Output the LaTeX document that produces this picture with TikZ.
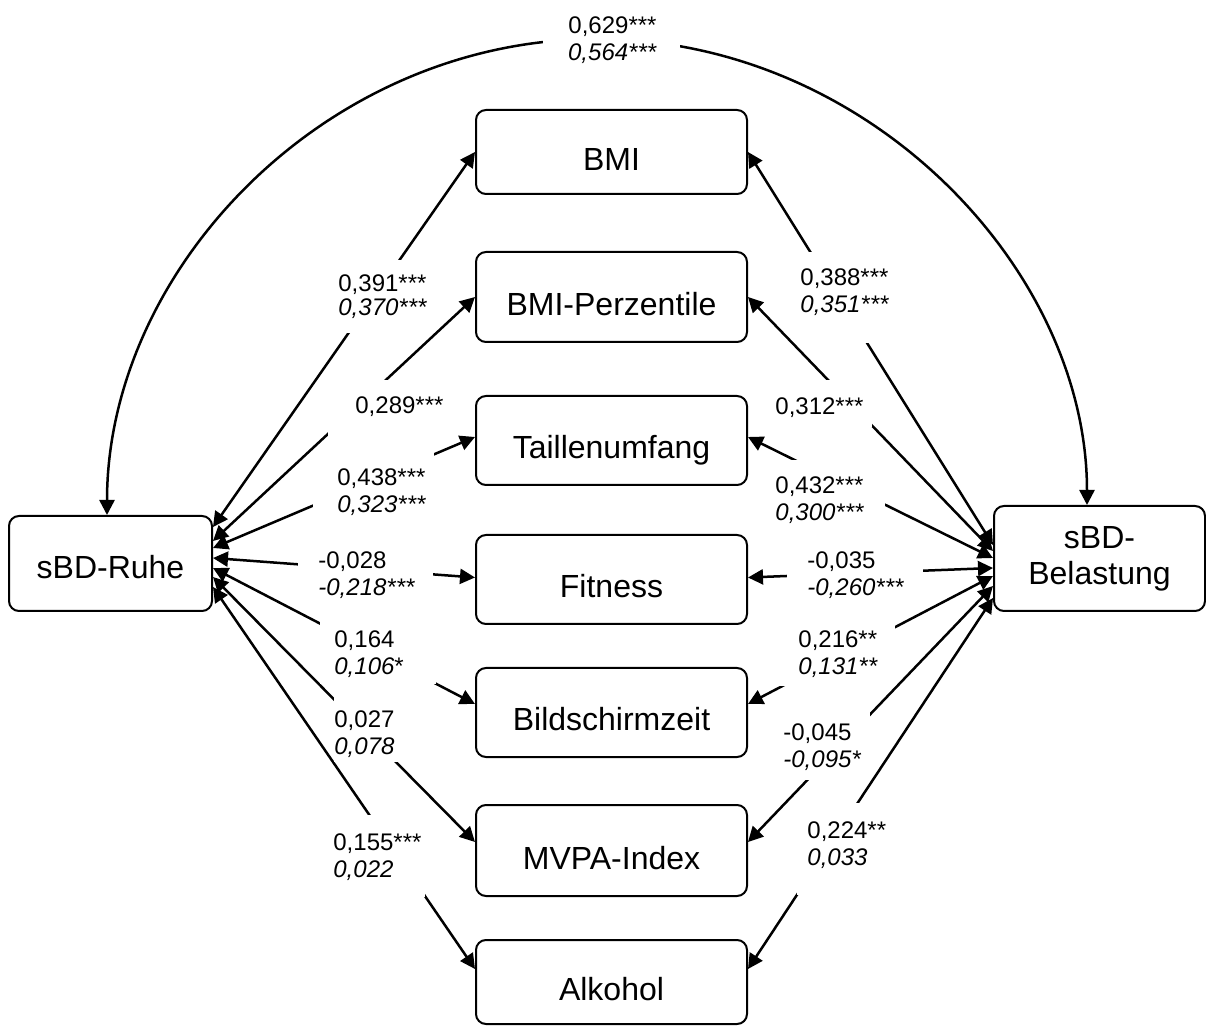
\documentclass[tikz,border=0pt]{standalone}
\usepackage{fontspec}
\setmainfont{Liberation Sans}
\usetikzlibrary{arrows.meta,calc}
\newcommand{\mystrut}{\rule{0pt}{9pt}}
\begin{document}
\begin{tikzpicture}[x=0.5pt,y=-0.5pt,
  box/.style={draw, line width=1pt, rounded corners=5pt, inner sep=0pt, font=\fontsize{16}{18}\selectfont},
  mid/.style={box, minimum width=135.5pt, minimum height=44.5pt, text height=18.5pt, text depth=0pt},
  link/.style={line width=1.25pt, {Triangle[length=7.5pt,width=7.5pt]}-{Triangle[length=7.5pt,width=7.5pt]}},
  mask/.style={fill=white},
  lbl/.style={anchor=north west, inner sep=0pt, align=left, font=\fontsize{12}{13.5}\selectfont}]
\useasboundingbox (0,0) rectangle (1206,1026);

% boxes
\node[mid, minimum height=42pt] (bmi) at (611.5,152) {BMI};
\node[mid, minimum height=45pt] (perz) at (611.5,297) {BMI-Perzentile};
\node[mid] (tail) at (611.5,440.5) {Taillenumfang};
\node[mid] (fit) at (611.5,579.5) {Fitness};
\node[mid] (bild) at (611.5,712.5) {Bildschirmzeit};
\node[mid, minimum height=45.5pt] (mvpa) at (611.5,850.5) {MVPA-Index};
\node[mid, minimum height=42pt] (alk) at (611.5,982) {Alkohol};
\node[box, minimum width=101.5pt, minimum height=47.5pt, text height=15pt, text depth=0pt] (ruhe) at (110.5,563.5) {sBD-Ruhe};
\node[box, minimum width=105.5pt, minimum height=52.5pt, align=center] (belast) at (1099.5,558.5) {sBD-\\Belastung};

% arc
\coordinate (arctop) at (597,39);
\draw[link] ($(ruhe.north)+(-3.5,0)$) .. controls +(0,-246) and +(-271,0) .. (arctop)
  .. controls +(271,0) and +(0,-236) .. ($(belast.north)+(-12.5,0)$);

% left connectors
\draw[link] (bmi.west) -- ($(ruhe.east)+(0,-36.5)$);
\draw[link] (perz.west) -- ($(ruhe.east)+(0,-22.5)$);
\draw[link] ($(tail.west)+(0,-3.5)$) -- ($(ruhe.east)+(0,-15.5)$);
\draw[link] ($(fit.west)+(0,-2)$) -- ($(ruhe.east)+(0,-5.5)$);
\draw[link] ($(bild.west)+(0,-8.5)$) -- ($(ruhe.east)+(0,4.5)$);
\draw[link] ($(mvpa.west)+(0,-8.5)$) -- ($(ruhe.east)+(0,13.5)$);
\draw[link] ($(alk.west)+(0,-13)$) -- ($(ruhe.east)+(0,23.5)$);

% right connectors
\draw[link] (bmi.east) -- ($(belast.west)+(0,-13.5)$);
\draw[link] (perz.east) -- ($(belast.west)+(0,-7.5)$);
\draw[link] ($(tail.east)+(0,-3.5)$) -- ($(belast.west)+(0,-0.5)$);
\draw[link] ($(fit.east)+(0,-2)$) -- ($(belast.west)+(0,9.5)$);
\draw[link] ($(bild.east)+(0,-8.5)$) -- ($(belast.west)+(0,17.5)$);
\draw[link] ($(mvpa.east)+(0,-8.5)$) -- ($(belast.west)+(0,27.5)$);
\draw[link] ($(alk.east)+(0,-13)$) -- ($(belast.west)+(0,39.5)$);

% label backgrounds (gaps in the connectors)
\fill[mask] (543,8) rectangle (680,70);
\fill[mask] (336,260) rectangle (432,333);
\fill[mask] (328,380) rectangle (445,436);
\fill[mask] (313,450) rectangle (434,518);
\fill[mask] (298,548) rectangle (433,603);
\fill[mask] (320,612) rectangle (436,684);
\fill[mask] (334,693) rectangle (412,762);
\fill[mask] (331,815) rectangle (425,897);
\fill[mask] (798,252) rectangle (892,343);
\fill[mask] (772,380) rectangle (872,427);
\fill[mask] (772,460) rectangle (885,528);
\fill[mask] (787,548) rectangle (923,602);
\fill[mask] (778,622) rectangle (895,686);
\fill[mask] (780,705) rectangle (870,780);
\fill[mask] (797,803) rectangle (890,895);

% labels
\node[lbl, anchor=north, align=center] (ltop) at (612.5,15.5) {\mystrut 0,629***\\ \textit{0,564***}};
\node[lbl] (l1) at (338,273.5) {\mystrut 0,391***\\[-1.5pt] \textit{0,370***}};
\node[lbl] (l2) at (355,395.5) {\mystrut 0,289***};
\node[lbl] (l3) at (337,467.5) {\mystrut 0,438***\\ \textit{0,323***}};
\node[lbl] (l4) at (318,550.5) {\mystrut -0,028\\ \textit{-0,218***}};
\node[lbl] (l5) at (334,629.5) {\mystrut 0,164\\ \textit{0,106}*};
\node[lbl] (l6) at (334,709.5) {\mystrut 0,027\\ \textit{0,078}};
\node[lbl] (l7) at (333,832.5) {\mystrut 0,155***\\ \textit{0,022}};
\node[lbl] (l8) at (800,267.5) {\mystrut 0,388***\\ \textit{0,351***}};
\node[lbl] (l9) at (775,396.5) {\mystrut 0,312***};
\node[lbl] (l10) at (775,475.5) {\mystrut 0,432***\\ \textit{0,300***}};
\node[lbl] (l11) at (807,550.5) {\mystrut -0,035\\ \textit{-0,260***}};
\node[lbl] (l12) at (798,629.5) {\mystrut 0,216**\\ \textit{0,131**}};
\node[lbl] (l13) at (783,722.5) {\mystrut -0,045\\ \textit{-0,095*}};
\node[lbl] (l14) at (807,820.5) {\mystrut 0,224**\\ \textit{0,033}};
\end{tikzpicture}
\end{document}
